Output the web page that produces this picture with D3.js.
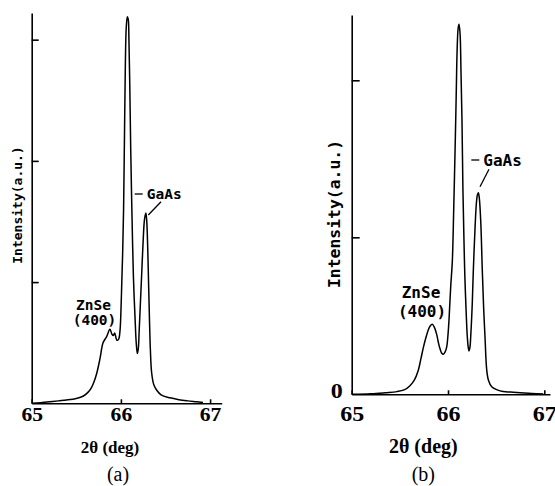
<!DOCTYPE html>
<html>
<head>
<meta charset="utf-8">
<script src="https://cdn.jsdelivr.net/npm/d3@7"></script>
<style>
  body { margin: 0; background: #fff; }
  svg { display: block; background: #fff; }
</style>
</head>
<body>
<svg id="svg1" width="555" height="486"></svg>
<script>
// 2theta (deg) / intensity (a.u.)
var thetaA = [65.00, 65.10, 65.20, 65.30, 65.39, 65.50, 65.58, 65.63, 65.67, 65.70, 65.73,
              65.766, 65.80, 65.84, 65.877, 65.90, 65.915, 65.93, 65.955, 65.975, 65.99,
              66.00, 66.01, 66.02, 66.03, 66.04, 66.05, 66.06, 66.072, 66.082, 66.09, 66.10,
              66.11, 66.12, 66.13, 66.14, 66.15, 66.16, 66.17, 66.184, 66.195, 66.205, 66.22,
              66.235, 66.25, 66.265, 66.28, 66.29, 66.30, 66.31, 66.32, 66.33, 66.345, 66.37,
              66.40, 66.45, 66.55, 66.65, 66.75, 66.85, 66.92];
var intensityA = [0.00, 0.005, 0.012, 0.02, 0.027, 0.04, 0.06, 0.09, 0.13, 0.18, 0.25,
                  0.37, 0.50, 0.55, 0.61, 0.57, 0.56, 0.58, 0.52, 0.53, 0.60,
                  0.75, 1.00, 1.25, 1.60, 2.20, 2.80, 3.10, 3.19, 3.17, 3.00, 2.60,
                  2.10, 1.70, 1.35, 1.05, 0.85, 0.68, 0.52, 0.41, 0.45, 0.60, 0.85,
                  1.10, 1.35, 1.52, 1.57, 1.50, 1.30, 1.00, 0.70, 0.45, 0.25, 0.15,
                  0.11, 0.07, 0.045, 0.03, 0.02, 0.012, 0.006];

var thetaB = [65.00, 65.20, 65.35, 65.47, 65.55, 65.605, 65.65, 65.69, 65.72, 65.745, 65.77,
              65.795, 65.815, 65.837, 65.86, 65.883, 65.90, 65.917, 65.935, 65.951, 65.97,
              65.986, 66.00, 66.01, 66.028, 66.045, 66.06, 66.075, 66.085, 66.095, 66.105,
              66.114, 66.125, 66.135, 66.145, 66.155, 66.165, 66.175, 66.19, 66.20, 66.21,
              66.218, 66.228, 66.236, 66.245, 66.252, 66.263, 66.28, 66.295, 66.305, 66.315,
              66.325, 66.34, 66.356, 66.37, 66.384, 66.402, 66.42, 66.454, 66.54, 66.65,
              66.75, 66.87, 66.99];
var intensityB = [0.00, 0.003, 0.01, 0.017, 0.03, 0.055, 0.09, 0.15, 0.23, 0.30, 0.36,
                  0.41, 0.435, 0.446, 0.425, 0.38, 0.33, 0.29, 0.262, 0.255, 0.27,
                  0.30, 0.38, 0.47, 0.685, 0.85, 1.20, 1.60, 1.90, 2.20, 2.33,
                  2.357, 2.30, 2.05, 1.75, 1.30, 1.00, 0.75, 0.50, 0.37, 0.30,
                  0.276, 0.30, 0.37, 0.48, 0.58, 0.79, 1.05, 1.22, 1.27, 1.284,
                  1.25, 1.10, 0.79, 0.55, 0.367, 0.155, 0.09, 0.048, 0.022, 0.014,
                  0.01, 0.005, 0.002];

var xTicks = [65, 66, 67];
var yTicksA = [1, 2, 3];
var yTicksB = [1, 2];
var xLabel = "2θ (deg)";
var yLabel = "Intensity(a.u.)";
var zincLabel = ["ZnSe", "(400)"];
var gaasLabel = "GaAs";

var svg = d3.select('#svg1');

var mono = '"DejaVu Sans Mono", monospace';
var serif = '"Liberation Serif", "Times New Roman", serif';

function drawPanel(p) {
  var g = svg.append('g');

  var x = d3.scaleLinear().domain([65, p.xMax]).range([p.left, p.right]);
  var y = d3.scaleLinear().domain([0, p.yMax]).range([p.bottom, p.top]);

  var pts = p.theta.map(function(t, i) { return [t, p.intensity[i]]; });

  // axes
  var xAxis = g.append('g')
               .attr('transform', 'translate(0,' + p.bottom + ')')
               .call(d3.axisBottom(x).tickValues(xTicks).tickSizeInner(-4).tickSizeOuter(0)
                       .tickPadding(p.tickPad).tickFormat(d3.format('d')));
  // the digits in the scan are wide, so stretch them a little
  xAxis.selectAll('text')
       .attr('font-family', serif).attr('font-weight', 'bold')
       .attr('font-size', p.tickFont).attr('fill', '#000')
       .attr('transform', 'scale(1.2,1)');

  g.append('g')
   .attr('transform', 'translate(' + p.left + ',0)')
   .call(d3.axisRight(y).tickValues(p.yTicks).tickSizeInner(p.yTick).tickSizeOuter(0)
           .tickFormat(''));

  g.selectAll('.domain, .tick line')
   .attr('stroke', '#000').attr('stroke-width', 1.6);

  if (p.zero) {
    g.append('text')
     .attr('transform', 'translate(' + (p.left - 15) + ',' + (y(0) + 4) + ') scale(1.2,1)')
     .attr('text-anchor', 'middle')
     .attr('font-family', serif).attr('font-weight', 'bold')
     .attr('font-size', p.tickFont)
     .text('0');
  }

  // scan
  var line = d3.line()
               .x(function(d) { return x(d[0]); })
               .y(function(d) { return y(d[1]); })
               .curve(d3.curveCatmullRom.alpha(0.5));

  g.append('path')
   .datum(pts)
   .attr('d', line)
   .attr('fill', 'none')
   .attr('stroke', '#000')
   .attr('stroke-width', 1.5)
   .attr('stroke-linejoin', 'round');

  // peak labels
  g.append('text')
   .attr('x', p.zn[0]).attr('y', p.zn[1]).attr('dy', '0.35em')
   .attr('text-anchor', 'middle')
   .attr('font-family', mono).attr('font-weight', 'bold').attr('font-size', p.monoFont)
   .text(zincLabel[0]);
  g.append('text')
   .attr('x', p.zn[0] + 1).attr('y', p.zn[1] + p.znGap).attr('dy', '0.35em')
   .attr('text-anchor', 'middle')
   .attr('font-family', mono).attr('font-weight', 'bold').attr('font-size', p.monoFont)
   .text(zincLabel[1]);

  g.append('line')
   .attr('x1', p.ga[0] - 12).attr('x2', p.ga[0] - 4)
   .attr('y1', p.ga[1]).attr('y2', p.ga[1])
   .attr('stroke', '#000').attr('stroke-width', 1.3);
  g.append('text')
   .attr('x', p.ga[0]).attr('y', p.ga[1]).attr('dy', '0.35em')
   .attr('font-family', mono).attr('font-weight', 'bold').attr('font-size', p.monoFont)
   .text(gaasLabel);
  g.append('line')
   .attr('x1', p.lead[0]).attr('y1', p.lead[1])
   .attr('x2', p.lead[2]).attr('y2', p.lead[3])
   .attr('stroke', '#000').attr('stroke-width', 1.3);

  // axis titles
  g.append('text')
   .attr('transform', 'translate(' + p.yLab[0] + ',' + p.yLab[1] + ') rotate(-90)')
   .attr('text-anchor', 'middle')
   .attr('font-family', mono).attr('font-weight', 'bold').attr('font-size', p.yLabFont)
   .text(yLabel);

  g.append('text')
   .attr('x', p.xLab[0]).attr('y', p.xLab[1])
   .attr('text-anchor', 'middle')
   .attr('font-family', serif).attr('font-weight', 'bold').attr('font-size', p.xLabFont)
   .text(xLabel);

  g.append('text')
   .attr('x', p.tag[0]).attr('y', p.tag[1])
   .attr('text-anchor', 'middle')
   .attr('font-family', serif).attr('font-size', 20)
   .text(p.tagText);
}

drawPanel({
  theta: thetaA, intensity: intensityA, yTicks: yTicksA,
  left: 31.7, right: 221.7, xMax: 67.13,
  bottom: 403.3, top: 13, yMax: 3.22,
  tickFont: 18, tickPad: 4.5, yTick: 7, zero: false,
  monoFont: 14.5, zn: [93.5, 304.5], znGap: 15,
  ga: [146.7, 194], lead: [161, 201.7, 148.3, 215],
  yLabFont: 13, yLab: [21.7, 205],
  xLabFont: 17, xLab: [110, 452.5],
  tag: [118, 480.5], tagText: '(a)'
});

drawPanel({
  theta: thetaB, intensity: intensityB, yTicks: yTicksB,
  left: 351.7, right: 550, xMax: 67.059,
  bottom: 394.3, top: 15, yMax: 2.416,
  tickFont: 20, tickPad: 13, yTick: 8, zero: true,
  monoFont: 16, zn: [421, 292.5], znGap: 19,
  ga: [483.3, 160], lead: [489, 169.3, 480, 186.7],
  yLabFont: 16.4, yLab: [340, 214],
  xLabFont: 20, xLab: [423.3, 453],
  tag: [423.3, 480.5], tagText: '(b)'
});
</script>
</body>
</html>
